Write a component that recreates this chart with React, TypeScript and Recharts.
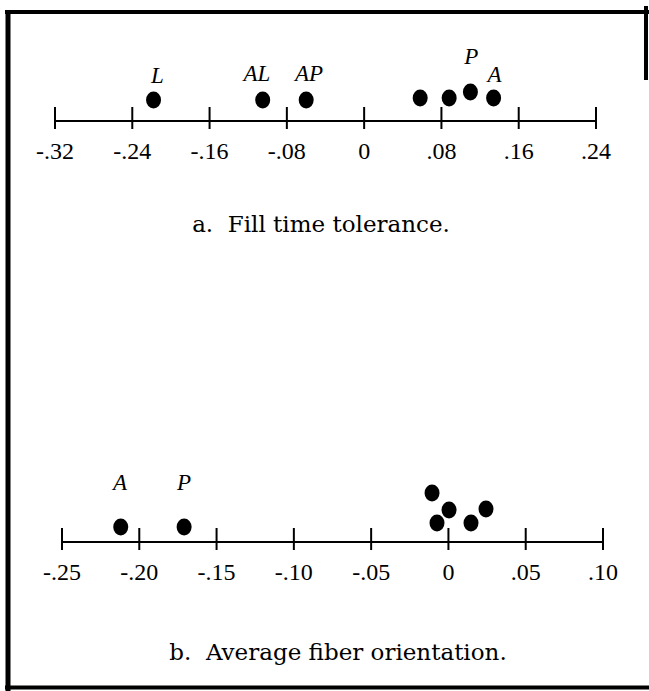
import React from 'react';
import { ScatterChart, Scatter, XAxis, YAxis } from 'recharts';

// ---- Panel a: Fill time tolerance ----
const fillTicks = [-0.32, -0.24, -0.16, -0.08, 0, 0.08, 0.16, 0.24];
const fillTickLabels = ['-.32', '-.24', '-.16', '-.08', '0', '.08', '.16', '.24'];
const fillX = [-0.218, -0.105, -0.06, 0.058, 0.088, 0.11, 0.134];
const fillLevel = [1.05, 1.05, 1.05, 1.15, 1.15, 1.45, 1.15];
const fillLabelText = ['L', 'AL', 'AP', 'P', 'A'];
const fillLabelX = [-0.214, -0.111, -0.057, 0.111, 0.135];
const fillLabelLevel = [2.3, 2.4, 2.4, 3.25, 2.35];

// ---- Panel b: Average fiber orientation ----
const fiberTicks = [-0.25, -0.2, -0.15, -0.1, -0.05, 0, 0.05, 0.1];
const fiberTickLabels = ['-.25', '-.20', '-.15', '-.10', '-.05', '0', '.05', '.10'];
const fiberX = [-0.212, -0.171, -0.0106, 0.0004, -0.0074, 0.0146, 0.0243];
const fiberLevel = [0.75, 0.75, 2.45, 1.6, 0.95, 0.95, 1.65];
const fiberLabelText = ['A', 'P'];
const fiberLabelX = [-0.2125, -0.171];
const fiberLabelLevel = [3.0, 3.0];

const captionA = 'a.  Fill time tolerance.';
const captionB = 'b.  Average fiber orientation.';

const fillPoints = fillX.map((x, i) => ({ x, y: fillLevel[i] }));
const fillLabels = fillLabelText.map((label, i) => ({ x: fillLabelX[i], y: fillLabelLevel[i], label }));
const fiberPoints = fiberX.map((x, i) => ({ x, y: fiberLevel[i] }));
const fiberLabels = fiberLabelText.map((label, i) => ({ x: fiberLabelX[i], y: fiberLabelLevel[i], label }));

const SERIF = "Liberation Serif, Times New Roman, serif";
const CAPTION_FONT = "DejaVu Serif, serif";

const makeTick = (ticks: number[], labels: string[]) => (props: any) => {
  const { x, y, payload } = props;
  const i = ticks.findIndex((t) => Math.abs(t - payload.value) < 1e-9);
  return (
    <g>
      <line x1={x} x2={x} y1={y - 14} y2={y + 8} stroke="#000" strokeWidth={2} />
      <text x={x} y={y + 38} textAnchor="middle" fontFamily={SERIF} fontSize={24} fill="#000">
        {labels[i]}
      </text>
    </g>
  );
};

const Dot = (props: any) => (
  <ellipse cx={props.cx} cy={props.cy} rx={7.5} ry={8.5} fill="#000" />
);

const Lbl = (props: any) => (
  <text
    x={props.cx}
    y={props.cy}
    textAnchor="middle"
    dominantBaseline="central"
    fontStyle="italic"
    fontFamily={SERIF}
    fontSize={23}
    fill="#000"
  >
    {props.payload.label}
  </text>
);

function Panel(props: {
  top: number;
  marginTop: number;
  left: number;
  right: number;
  domain: [number, number];
  ticks: number[];
  tickLabels: string[];
  points: any[];
  labels: any[];
}) {
  const height = props.marginTop + 80 + 45;
  return (
    <div style={{ position: 'absolute', left: 0, top: props.top }}>
      <ScatterChart
        width={649}
        height={height}
        margin={{ top: props.marginTop, right: props.right, bottom: 0, left: props.left }}
      >
        <XAxis
          type="number"
          dataKey="x"
          domain={props.domain}
          ticks={props.ticks}
          interval={0}
          tickSize={0}
          tickMargin={0}
          tickLine={false}
          axisLine={{ stroke: '#000', strokeWidth: 2 }}
          tick={makeTick(props.ticks, props.tickLabels)}
          height={45}
          allowDataOverflow
        />
        <YAxis type="number" dataKey="y" domain={[0, 4]} hide />
        <Scatter data={props.points} shape={Dot} isAnimationActive={false} />
        <Scatter data={props.labels} shape={Lbl} isAnimationActive={false} />
      </ScatterChart>
    </div>
  );
}

export default function App() {
  return (
    <div
      style={{
        position: 'absolute',
        left: 0,
        top: 0,
        width: 649,
        height: 691,
        background: '#fff',
        overflow: 'hidden',
      }}
    >
      <svg width={649} height={691} style={{ position: 'absolute', left: 0, top: 0 }}>
        <line x1={5} x2={649} y1={12} y2={12} stroke="#000" strokeWidth={4} />
        <line x1={8} x2={8} y1={10} y2={691} stroke="#000" strokeWidth={5} />
        <line x1={5} x2={649} y1={687.5} y2={687.5} stroke="#000" strokeWidth={4} />
        <line x1={646} x2={646} y1={6} y2={80} stroke="#000" strokeWidth={4} />
        <text x={321} y={232} textAnchor="middle" fontFamily={CAPTION_FONT} fontSize={23} fill="#000" style={{ whiteSpace: 'pre' }}>
          {captionA}
        </text>
        <text x={338} y={660} textAnchor="middle" fontFamily={CAPTION_FONT} fontSize={23} fill="#000" style={{ whiteSpace: 'pre' }}>
          {captionB}
        </text>
      </svg>
      <Panel
        top={0}
        marginTop={41}
        left={55}
        right={53}
        domain={[-0.32, 0.24]}
        ticks={fillTicks}
        tickLabels={fillTickLabels}
        points={fillPoints}
        labels={fillLabels}
      />
      <Panel
        top={420}
        marginTop={42}
        left={62}
        right={46}
        domain={[-0.25, 0.1]}
        ticks={fiberTicks}
        tickLabels={fiberTickLabels}
        points={fiberPoints}
        labels={fiberLabels}
      />
    </div>
  );
}
